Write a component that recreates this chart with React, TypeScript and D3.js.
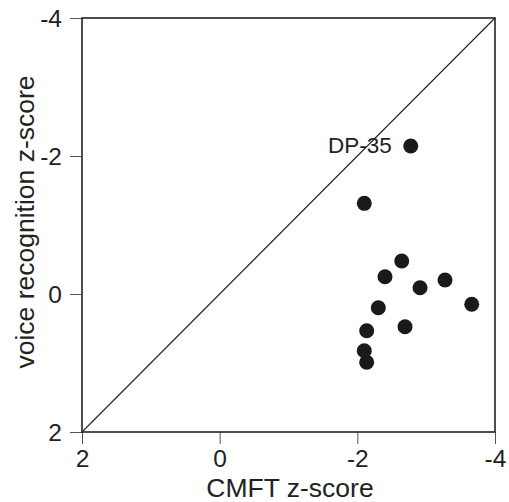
import React, { useEffect, useRef } from 'react';
import * as d3 from 'd3';

// CMFT z-score vs voice recognition z-score
const cmft = [-2.776, -2.101, -2.645, -2.402, -2.911, -3.274, -3.662, -2.305, -2.693, -2.136, -2.101, -2.136];
const voice = [-2.145, -1.314, -0.478, -0.251, -0.091, -0.203, 0.149, 0.199, 0.474, 0.532, 0.822, 0.99];
const labels = ['DP-35', '', '', '', '', '', '', '', '', '', '', ''];
const xTicks = [2, 0, -2, -4];
const yTicks = [-4, -2, 0, 2];

const App = () => {
    const ref = useRef<SVGSVGElement>(null);

    useEffect(() => {
        const svg = d3.select(ref.current);
        svg.selectAll('*').remove();

        const width = 509;
        const height = 502;
        const margin = { top: 18, right: 14, bottom: 70, left: 82 };
        const font = "'Liberation Sans', Arial, sans-serif";

        // reversed axes: 2 on the left/bottom, -4 on the right/top
        const x = d3.scaleLinear().domain([2, -4]).range([margin.left, width - margin.right]);
        const y = d3.scaleLinear().domain([-4, 2]).range([margin.top, height - margin.bottom]);

        const xAxis = svg.append('g')
            .attr('transform', `translate(0,${height - margin.bottom})`)
            .call(d3.axisBottom(x).tickValues(xTicks).tickSize(12).tickPadding(6));
        xAxis.select('.domain').remove();
        xAxis.selectAll('line').attr('stroke', '#555').attr('stroke-width', 1);
        xAxis.selectAll('text')
            .style('font-family', font)
            .style('font-size', '24.5px')
            .attr('fill', '#222')
            .text((d: any) => String(d));

        const yAxis = svg.append('g')
            .attr('transform', `translate(${margin.left},0)`)
            .call(d3.axisLeft(y).tickValues(yTicks).tickSize(12).tickPadding(8));
        yAxis.select('.domain').remove();
        yAxis.selectAll('line').attr('stroke', '#555').attr('stroke-width', 1);
        yAxis.selectAll('text')
            .style('font-family', font)
            .style('font-size', '24.5px')
            .attr('fill', '#222')
            .attr('dy', '0.36em')
            .text((d: any) => String(d));

        // frame
        svg.append('rect')
            .attr('x', x(2))
            .attr('y', y(-4))
            .attr('width', x(-4) - x(2))
            .attr('height', y(2) - y(-4))
            .attr('fill', 'none')
            .attr('stroke', '#222')
            .attr('stroke-width', 1.6);

        // identity line
        svg.append('line')
            .attr('x1', x(2))
            .attr('y1', y(2))
            .attr('x2', x(-4))
            .attr('y2', y(-4))
            .attr('stroke', '#222')
            .attr('stroke-width', 1.1);

        // points
        svg.append('g')
            .selectAll('circle')
            .data(cmft)
            .enter()
            .append('circle')
            .attr('cx', (d) => x(d))
            .attr('cy', (d, i) => y(voice[i]))
            .attr('r', 7.5)
            .attr('fill', '#1a1a1a');

        svg.append('g')
            .selectAll('text')
            .data(labels)
            .enter()
            .append('text')
            .attr('x', (d, i) => x(cmft[i]) - 19)
            .attr('y', (d, i) => y(voice[i]) + 7.5)
            .attr('text-anchor', 'end')
            .style('font-family', font)
            .style('font-size', '22.5px')
            .attr('fill', '#222')
            .text((d) => d);

        // axis titles
        svg.append('text')
            .attr('x', 290)
            .attr('y', 497)
            .attr('text-anchor', 'middle')
            .style('font-family', font)
            .style('font-size', '26.5px')
            .attr('fill', '#222')
            .text('CMFT z-score');

        svg.append('text')
            .attr('transform', 'translate(34,222) rotate(-90)')
            .attr('text-anchor', 'middle')
            .style('font-family', font)
            .style('font-size', '26.5px')
            .attr('fill', '#222')
            .text('voice recognition z-score');
    }, []);

    return (
        <svg
            ref={ref}
            width={509}
            height={502}
            style={{ position: 'absolute', left: 0, top: 0, background: '#fff' }}
        />
    );
};

export default App;
